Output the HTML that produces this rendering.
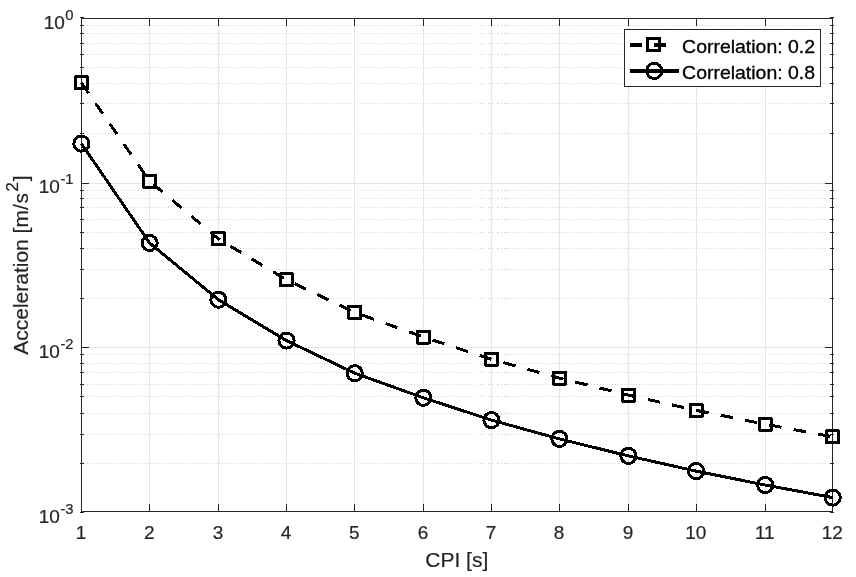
<!DOCTYPE html>
<html lang="en"><head><meta charset="utf-8"><title>Acceleration vs CPI</title>
<style>html,body{margin:0;padding:0;background:#fff}svg{display:block}</style></head>
<body>
<svg width="856" height="577" viewBox="0 0 856 577" font-family="'Liberation Sans', Arial, Helvetica, sans-serif" fill="#262626">
<rect x="0" y="0" width="856" height="577" fill="#fff"/>
<path d="M83.5 133.5H832.0 M83.5 103.5H832.0 M83.5 83.5H832.0 M83.5 67.5H832.0 M83.5 54.5H832.0 M83.5 43.5H832.0 M83.5 33.5H832.0 M83.5 25.5H832.0 M83.5 298.5H832.0 M83.5 269.5H832.0 M83.5 248.5H832.0 M83.5 232.5H832.0 M83.5 219.5H832.0 M83.5 207.5H832.0 M83.5 198.5H832.0 M83.5 190.5H832.0 M83.5 463.5H832.0 M83.5 434.5H832.0 M83.5 413.5H832.0 M83.5 396.5H832.0 M83.5 384.5H832.0 M83.5 372.5H832.0 M83.5 363.5H832.0 M83.5 354.5H832.0" stroke="#d5d5d5" stroke-width="1" stroke-dasharray="1 2" fill="none" shape-rendering="crispEdges"/>
<path d="M149.5 18.5V511.5 M218.5 18.5V511.5 M286.5 18.5V511.5 M354.5 18.5V511.5 M423.5 18.5V511.5 M491.5 18.5V511.5 M559.5 18.5V511.5 M628.5 18.5V511.5 M696.5 18.5V511.5 M765.5 18.5V511.5 M81.5 183.5H832.5 M81.5 347.5H832.5" stroke="#e5e5e5" stroke-width="1" fill="none" shape-rendering="crispEdges"/>
<rect x="81.5" y="18.5" width="751.0" height="493.0" fill="none" stroke="#262626" stroke-width="1" shape-rendering="crispEdges"/>
<path d="M149.5 512.0v-8M149.5 18.0v8 M218.5 512.0v-8M218.5 18.0v8 M286.5 512.0v-8M286.5 18.0v8 M354.5 512.0v-8M354.5 18.0v8 M423.5 512.0v-8M423.5 18.0v8 M491.5 512.0v-8M491.5 18.0v8 M559.5 512.0v-8M559.5 18.0v8 M628.5 512.0v-8M628.5 18.0v8 M696.5 512.0v-8M696.5 18.0v8 M765.5 512.0v-8M765.5 18.0v8 M81.0 183.5h8M833.0 183.5h-8 M81.0 347.5h8M833.0 347.5h-8 M80.0 133.5h4M834.0 133.5h-4 M80.0 103.5h4M834.0 103.5h-4 M80.0 83.5h4M834.0 83.5h-4 M80.0 67.5h4M834.0 67.5h-4 M80.0 54.5h4M834.0 54.5h-4 M80.0 43.5h4M834.0 43.5h-4 M80.0 33.5h4M834.0 33.5h-4 M80.0 25.5h4M834.0 25.5h-4 M80.0 298.5h4M834.0 298.5h-4 M80.0 269.5h4M834.0 269.5h-4 M80.0 248.5h4M834.0 248.5h-4 M80.0 232.5h4M834.0 232.5h-4 M80.0 219.5h4M834.0 219.5h-4 M80.0 207.5h4M834.0 207.5h-4 M80.0 198.5h4M834.0 198.5h-4 M80.0 190.5h4M834.0 190.5h-4 M80.0 463.5h4M834.0 463.5h-4 M80.0 434.5h4M834.0 434.5h-4 M80.0 413.5h4M834.0 413.5h-4 M80.0 396.5h4M834.0 396.5h-4 M80.0 384.5h4M834.0 384.5h-4 M80.0 372.5h4M834.0 372.5h-4 M80.0 363.5h4M834.0 363.5h-4 M80.0 354.5h4M834.0 354.5h-4 M80.0 17.5h4M80.0 512.5h4M834.0 17.5h-4M834.0 512.5h-4" stroke="#262626" stroke-width="1" fill="none" shape-rendering="crispEdges"/>
<g fill="none" stroke="#000" stroke-width="3.0" stroke-linejoin="round" shape-rendering="crispEdges">
<path d="M81.40 82.95 L149.60 181.10 L218.40 238.90 L286.50 279.80 L354.70 312.40 L423.40 337.00 L491.50 359.30 L559.40 378.10 L628.40 395.10 L696.10 410.30 L765.20 424.20 L832.70 436.80" stroke-dasharray="12.5 12.33"/>
<path d="M81.40 143.60 L149.60 243.00 L218.40 299.70 L286.50 340.60 L354.70 373.20 L423.40 397.80 L491.50 420.10 L559.40 438.90 L628.40 455.90 L696.10 471.10 L765.20 485.00 L832.70 497.60"/>
<rect x="75.40" y="76.95" width="12.0" height="12.0"/>
<rect x="143.60" y="175.10" width="12.0" height="12.0"/>
<rect x="212.40" y="232.90" width="12.0" height="12.0"/>
<rect x="280.50" y="273.80" width="12.0" height="12.0"/>
<rect x="348.70" y="306.40" width="12.0" height="12.0"/>
<rect x="417.40" y="331.00" width="12.0" height="12.0"/>
<rect x="485.50" y="353.30" width="12.0" height="12.0"/>
<rect x="553.40" y="372.10" width="12.0" height="12.0"/>
<rect x="622.40" y="389.10" width="12.0" height="12.0"/>
<rect x="690.10" y="404.30" width="12.0" height="12.0"/>
<rect x="759.20" y="418.20" width="12.0" height="12.0"/>
<rect x="826.70" y="430.80" width="12.0" height="12.0"/>
<circle cx="81.40" cy="143.60" r="7.6"/>
<circle cx="149.60" cy="243.00" r="7.6"/>
<circle cx="218.40" cy="299.70" r="7.6"/>
<circle cx="286.50" cy="340.60" r="7.6"/>
<circle cx="354.70" cy="373.20" r="7.6"/>
<circle cx="423.40" cy="397.80" r="7.6"/>
<circle cx="491.50" cy="420.10" r="7.6"/>
<circle cx="559.40" cy="438.90" r="7.6"/>
<circle cx="628.40" cy="455.90" r="7.6"/>
<circle cx="696.10" cy="471.10" r="7.6"/>
<circle cx="765.20" cy="485.00" r="7.6"/>
<circle cx="832.70" cy="497.60" r="7.6"/>
</g>
<rect x="624.5" y="29.5" width="196.0" height="57.0" fill="#fff" stroke="#262626" stroke-width="1" shape-rendering="crispEdges"/>
<g fill="none" stroke="#000" stroke-width="3.0" shape-rendering="crispEdges">
<path d="M630 45H678" stroke-width="4" stroke-dasharray="12.2 12"/>
<path d="M630 71H679" stroke-width="4"/>
<rect x="647.70" y="38.70" width="12.0" height="12.0"/>
<circle cx="654.2" cy="70.9" r="7.6"/>
</g>
<g stroke="#262626" stroke-width="0.2">
<text fill="#000" stroke="#000" stroke-width="0.3" x="682.1" y="52.9" font-size="17.8" textLength="133" lengthAdjust="spacingAndGlyphs">Correlation: 0.2</text>
<text fill="#000" stroke="#000" stroke-width="0.3" x="682.1" y="78.6" font-size="17.8" textLength="133" lengthAdjust="spacingAndGlyphs">Correlation: 0.8</text>
<text x="81.00" y="538.5" font-size="19.0" text-anchor="middle">1</text>
<text x="149.20" y="538.5" font-size="19.0" text-anchor="middle">2</text>
<text x="218.00" y="538.5" font-size="19.0" text-anchor="middle">3</text>
<text x="286.10" y="538.5" font-size="19.0" text-anchor="middle">4</text>
<text x="354.30" y="538.5" font-size="19.0" text-anchor="middle">5</text>
<text x="423.00" y="538.5" font-size="19.0" text-anchor="middle">6</text>
<text x="491.10" y="538.5" font-size="19.0" text-anchor="middle">7</text>
<text x="559.00" y="538.5" font-size="19.0" text-anchor="middle">8</text>
<text x="628.00" y="538.5" font-size="19.0" text-anchor="middle">9</text>
<text x="695.70" y="538.5" font-size="19.0" text-anchor="middle">10</text>
<text x="764.80" y="538.5" font-size="19.0" text-anchor="middle">11</text>
<text x="832.30" y="538.5" font-size="19.0" text-anchor="middle">12</text>
<text x="73.6" y="29.1" font-size="19.0" text-anchor="end">10<tspan font-size="14.8" dx="0.6" dy="-9.2">0</tspan></text>
<text x="73.6" y="193.3" font-size="19.0" text-anchor="end">10<tspan font-size="14.8" dx="0.6" dy="-9.2">-1</tspan></text>
<text x="73.6" y="358.0" font-size="19.0" text-anchor="end">10<tspan font-size="14.8" dx="0.6" dy="-9.2">-2</tspan></text>
<text x="73.6" y="522.7" font-size="19.0" text-anchor="end">10<tspan font-size="14.8" dx="0.6" dy="-9.2">-3</tspan></text>
<text x="456.8" y="567.3" font-size="21" text-anchor="middle">CPI [s]</text>
<text transform="translate(28 354.8) rotate(-90)" font-size="21">Acceleration [m/<tspan dx="0.7">s</tspan><tspan font-size="17.4" dx="1.4" dy="-10.2">2</tspan><tspan dx="0.7" dy="10.2">]</tspan></text>
</g>
</svg>
</body></html>
